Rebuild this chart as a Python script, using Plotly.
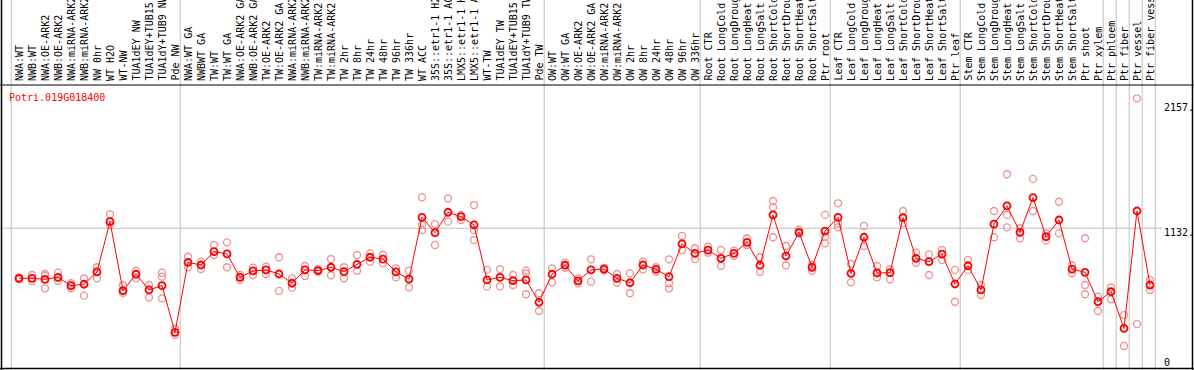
import plotly.graph_objects as go

gene_name = "Potri.019G018400"

categories = [
    "NWA:WT", "NWB:WT", "NWA:OE-ARK2", "NWB:OE-ARK2", "NWA:miRNA-ARK2", "NWB:miRNA-ARK2",
    "NW 0hr", "WT H2O", "WT-NW", "TUA1dEY NW", "TUA1dEY+TUB15 NW", "TUA1dY+TUB9 NW", "Pde NW",
    "NWA:WT GA", "NWBWT GA", "TW:WT", "TW:WT GA", "NWA:OE-ARK2 GA", "NWB:OE-ARK2 GA",
    "TW:OE-ARK2", "TW:OE-ARK2 GA", "NWA:miRNA-ARK2 GA", "NWB:miRNA-ARK2 GA", "TW:miRNA-ARK2",
    "TW:miRNA-ARK2 GA", "TW 2hr", "TW 8hr", "TW 24hr", "TW 48hr", "TW 96hr", "TW 336hr",
    "WT ACC", "35S::etr1-1 H2O", "35S::etr1-1 ACC", "LMX5::etr1-1 H2O", "LMX5::etr1-1 ACC",
    "WT-TW", "TUA1dEY TW", "TUA1dEY+TUB15 TW", "TUA1dY+TUB9 TW", "Pde TW",
    "OW:WT", "OW:WT GA", "OW:OE-ARK2", "OW:OE-ARK2 GA", "OW:miRNA-ARK2", "OW:miRNA-ARK2 GA",
    "OW 2hr", "OW 8hr", "OW 24hr", "OW 48hr", "OW 96hr", "OW 336hr",
    "Root CTR", "Root LongCold", "Root LongDrought", "Root LongHeat", "Root LongSalt",
    "Root ShortCold", "Root ShortDrought", "Root ShortHeat", "Root ShortSalt", "Ptr root",
    "Leaf CTR", "Leaf LongCold", "Leaf LongDrought", "Leaf LongHeat", "Leaf LongSalt",
    "Leaf ShortCold", "Leaf ShortDrought", "Leaf ShortHeat", "Leaf ShortSalt", "Ptr leaf",
    "Stem CTR", "Stem LongCold", "Stem LongDrought", "Stem LongHeat", "Stem LongSalt",
    "Stem ShortCold", "Stem ShortDrought", "Stem ShortHeat", "Stem ShortSalt",
    "Ptr shoot", "Ptr xylem", "Ptr phloem", "Ptr fiber", "Ptr vessel", "Ptr fiber vessel",
]

mean_values = [
    737, 737, 729, 745, 679, 690, 787, 1184, 639, 769, 645, 679, 311,
    863, 842, 947, 929, 745, 795, 803, 771, 698, 803, 797, 824, 789, 847, 903, 889, 787, 731,
    1218, 1097, 1258, 1223, 1158, 724, 745, 718, 724, 548,
    769, 840, 716, 803, 810, 737, 702, 842, 808, 750, 1008, 934,
    960, 895, 934, 1021, 840, 1237, 913, 1100, 824, 1110,
    1218, 776, 1061, 779, 781, 1215, 895, 868, 928, 692,
    836, 645, 1165, 1308, 1100, 1373, 1065, 1197, 810,
    784, 552, 631, 342, 1268, 684,
]

replicate_values = [
    [728, 745], [763, 716], [771, 658, 758], [781, 716], [698, 658], [737, 600],
    [824, 737], [1242, 1158], [682, 623], [797, 737], [684, 587], [781, 750, 579], [337, 290],
    [907, 824], [868, 810], [1000, 921], [1021, 824], [763, 724], [821, 763],
    [829, 771], [903, 637], [737, 663], [834, 755], [810, 790], [889, 761],
    [824, 737], [921, 797], [934, 868], [923, 855], [816, 745], [797, 666],
    [1376, 1158, 1118], [1165, 1000], [1368, 1184], [1237, 1197], [1315, 1118, 1039],
    [803, 671], [810, 674], [763, 684], [797, 776, 611], [619, 479],
    [816, 705], [860, 820], [737, 698], [887, 710], [820, 800], [771, 702],
    [776, 619], [868, 808], [824, 789], [887, 698, 658], [1071, 960], [974, 889],
    [986, 939], [960, 836], [955, 913], [1053, 1000], [903, 789],
    [1347, 1297, 1061], [992, 840], [1120, 1090], [842, 797], [1237, 1065, 1013],
    [1329, 1171, 1139], [850, 705], [1150, 992], [834, 745], [808, 729],
    [1268, 1171], [939, 860], [926, 763], [960, 881], [803, 552],
    [881, 803], [684, 605], [1268, 1061], [1558, 1237, 1139], [1132, 1053],
    [1521, 1268], [1092, 1034], [1341, 1092], [776, 840],
    [1053, 684, 611], [592, 479], [666, 571], [447, 203], [2157, 376], [724, 645],
]

axis_labels = ["2157.", "1132.", "0"]
axis_label_values = [2157, 1132, 0]

group_ends = [-1, 12, 40, 52, 62, 72, 83, 84, 85, 86, 87]

W, H = 1194, 370
FONT = "DejaVu Sans Mono"

idx = list(range(len(categories)))
rep_x, rep_y = [], []
for i, reps in enumerate(replicate_values):
    for v in reps:
        rep_x.append(i)
        rep_y.append(v)

fig = go.Figure()
fig.add_trace(go.Scatter(
    x=rep_x, y=rep_y, mode="markers",
    marker=dict(symbol="circle-open", size=7, color="rgb(238,145,145)", line=dict(width=1.3)),
    hoverinfo="skip", showlegend=False,
))
fig.add_trace(go.Scatter(
    x=idx, y=mean_values, mode="lines+markers",
    line=dict(color="#ff0000", width=1),
    marker=dict(symbol="circle-open", size=7, color="#ff0000", line=dict(width=1.8)),
    showlegend=False,
))

def py(p):
    return 1 - p / H

shapes = []
for j in group_ends:
    xk = j + 0.5 - 0.1
    shapes.append(dict(type="line", xref="x", yref="paper", x0=xk, x1=xk, y0=0, y1=1,
                       line=dict(color="#c0c0c0", width=1), layer="below"))
shapes.append(dict(type="line", xref="paper", yref="y", x0=0, x1=1162 / W, y0=1132, y1=1132,
                   line=dict(color="#c0c0c0", width=1), layer="below"))
# frame
shapes.append(dict(type="line", xref="paper", yref="paper", x0=0, x1=1, y0=py(85), y1=py(85),
                   line=dict(color="black", width=1)))
shapes.append(dict(type="line", xref="paper", yref="paper", x0=0, x1=1, y0=py(368.5), y1=py(368.5),
                   line=dict(color="black", width=1.5)))
shapes.append(dict(type="line", xref="paper", yref="paper", x0=1.5 / W, x1=1.5 / W, y0=0, y1=1,
                   line=dict(color="black", width=1.5)))
shapes.append(dict(type="line", xref="paper", yref="paper", x0=1192.5 / W, x1=1192.5 / W, y0=0, y1=1,
                   line=dict(color="black", width=1.5)))

annotations = []
for i, c in enumerate(categories):
    annotations.append(dict(x=i, xref="x", y=py(83), yref="paper", text=c, showarrow=False,
                            textangle=-90, xanchor="center", yanchor="bottom",
                            font=dict(family=FONT, size=10, color="black")))
annotations.append(dict(x=7 / W, xref="paper", y=py(97.5), yref="paper", text=gene_name,
                        showarrow=False, xanchor="left", yanchor="middle",
                        font=dict(family=FONT, size=10, color="#ff0000")))
label_py = [107.5, 232, 362]
for t, p in zip(axis_labels, label_py):
    annotations.append(dict(x=1162 / W, xref="paper", y=py(p), yref="paper", text=t,
                            showarrow=False, xanchor="left", yanchor="middle",
                            font=dict(family=FONT, size=10, color="black")))

# y pixel = 371.7 - 0.12673*v
scale = 0.12673
y0px = 371.7
yr = [(y0px - H) / scale, y0px / scale]
xr = [-19 / 13, (W - 19) / 13]

fig.update_layout(
    width=W, height=H, autosize=False,
    margin=dict(l=0, r=0, t=0, b=0, pad=0),
    paper_bgcolor="white", plot_bgcolor="white",
    xaxis=dict(range=xr, visible=False, showgrid=False, zeroline=False),
    yaxis=dict(range=yr, visible=False, showgrid=False, zeroline=False),
    shapes=shapes, annotations=annotations,
)

fig.write_html(
    "out.html",
    config={"displayModeBar": False},
    post_script="document.body.style.margin='0';document.body.style.padding='0';"
                "document.body.style.overflow='hidden';",
)
